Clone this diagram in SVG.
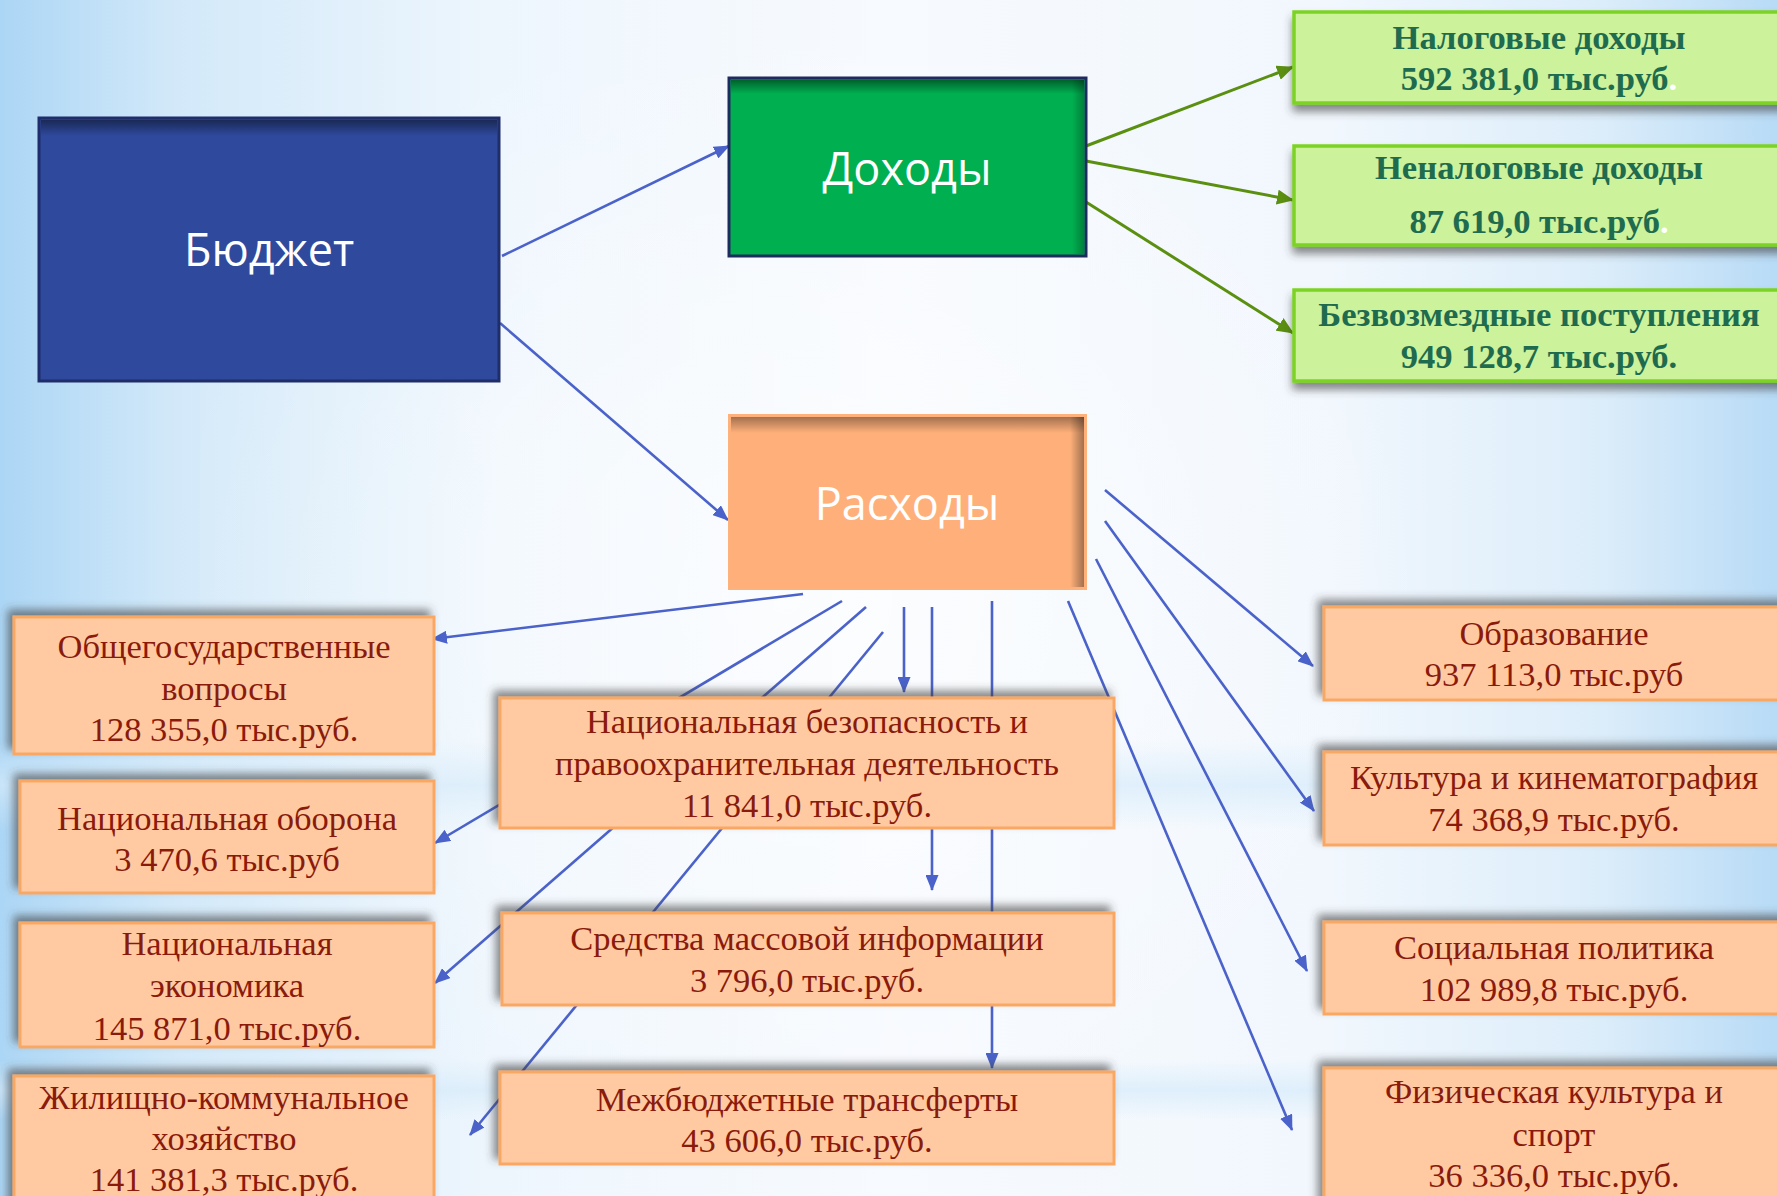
<svg xmlns="http://www.w3.org/2000/svg" width="1777" height="1196" viewBox="0 0 1777 1196">
  <defs>
    <linearGradient id="bg" x1="0" y1="0" x2="1" y2="0">
      <stop offset="0" stop-color="#acd6f5"/>
      <stop offset="0.1" stop-color="#d3e9f9"/>
      <stop offset="0.28" stop-color="#eef6fd"/>
      <stop offset="0.5" stop-color="#f7fafe"/>
      <stop offset="0.75" stop-color="#f1f7fd"/>
      <stop offset="0.9" stop-color="#dcedfa"/>
      <stop offset="1" stop-color="#b8dbf6"/>
    </linearGradient>
    <radialGradient id="glow" cx="0.45" cy="0.5" r="0.5">
      <stop offset="0" stop-color="#ffffff" stop-opacity="0.6"/>
      <stop offset="1" stop-color="#ffffff" stop-opacity="0"/>
    </radialGradient>
    <linearGradient id="band" x1="0" y1="0" x2="0" y2="1">
      <stop offset="0" stop-color="#d6ebfa" stop-opacity="0"/>
      <stop offset="0.5" stop-color="#d6ebfa" stop-opacity="0.7"/>
      <stop offset="1" stop-color="#d6ebfa" stop-opacity="0"/>
    </linearGradient>
    <linearGradient id="topShade" x1="0" y1="0" x2="0" y2="1">
      <stop offset="0" stop-color="#000" stop-opacity="0.45"/>
      <stop offset="1" stop-color="#000" stop-opacity="0"/>
    </linearGradient>
    <linearGradient id="rightShade" x1="1" y1="0" x2="0" y2="0">
      <stop offset="0" stop-color="#000" stop-opacity="0.45"/>
      <stop offset="1" stop-color="#000" stop-opacity="0"/>
    </linearGradient>
    <filter id="shUp" x="-10%" y="-20%" width="120%" height="140%">
      <feDropShadow dx="-5" dy="-6" stdDeviation="4" flood-color="#3a3a3a" flood-opacity="0.6"/>
    </filter>
    <filter id="shDown" x="-10%" y="-20%" width="120%" height="150%">
      <feDropShadow dx="0" dy="7" stdDeviation="4" flood-color="#3a3a3a" flood-opacity="0.6"/>
    </filter>
    <marker id="arrB" viewBox="0 0 16 13" markerWidth="16" markerHeight="13" refX="15" refY="6.5" orient="auto" markerUnits="userSpaceOnUse">
      <path d="M0,0 L16,6.5 L0,13 z" fill="#4a62c9"/>
    </marker>
    <marker id="arrG" viewBox="0 0 17 15" markerWidth="17" markerHeight="15" refX="16" refY="7.5" orient="auto" markerUnits="userSpaceOnUse">
      <path d="M0,0 L17,7.5 L0,15 z" fill="#5b8f10"/>
    </marker>
  </defs>
  <style>
    .title { font-family: "Open Sans", "Noto Sans", "DejaVu Sans", sans-serif; font-size: 45px; fill: #ffffff; text-anchor: middle; }
    .gbox { fill: #ccf29b; stroke: #7dd322; stroke-width: 3.5; filter: url(#shDown); }
    .gtxt { font-family: "Liberation Serif", "Times New Roman", serif; font-weight: bold; font-size: 34.6px; fill: #1f6b4f; text-anchor: middle; }
    .obox { fill: #ffcaa1; stroke: #f9a864; stroke-width: 3; filter: url(#shUp); }
    .otxt { font-family: "Liberation Serif", "Times New Roman", serif; font-size: 34.5px; fill: #8a1b0c; text-anchor: middle; }
    .cb { stroke: #4a62c9; stroke-width: 2.6; fill: none; marker-end: url(#arrB); }
    .cg { stroke: #5b8f10; stroke-width: 3; fill: none; marker-end: url(#arrG); }
  </style>

  <rect x="0" y="0" width="1777" height="1196" fill="url(#bg)"/>
  <rect x="200" y="0" width="1300" height="1196" fill="url(#glow)"/>
  <rect x="0" y="740" width="1777" height="90" fill="url(#band)"/>
  <rect x="0" y="1060" width="1777" height="60" fill="url(#band)"/>

  <g id="connectors">
    <line class="cb" x1="502" y1="256" x2="729" y2="146"/>
    <line class="cb" x1="500" y1="323" x2="728" y2="520"/>
    <line class="cg" x1="1086" y1="146" x2="1293" y2="67"/>
    <line class="cg" x1="1086" y1="161" x2="1293" y2="200"/>
    <line class="cg" x1="1086" y1="202" x2="1293" y2="333"/>
    <line class="cb" x1="803" y1="594" x2="432" y2="639"/>
    <line class="cb" x1="842" y1="601" x2="435" y2="843"/>
    <line class="cb" x1="866" y1="607" x2="435" y2="983"/>
    <line class="cb" x1="883" y1="632" x2="470" y2="1135"/>
    <line class="cb" x1="904" y1="607" x2="904" y2="692"/>
    <line class="cb" x1="932" y1="607" x2="932" y2="890"/>
    <line class="cb" x1="992" y1="601" x2="992" y2="1068"/>
    <line class="cb" x1="1105" y1="490" x2="1313" y2="666"/>
    <line class="cb" x1="1105" y1="521" x2="1314" y2="811"/>
    <line class="cb" x1="1096" y1="559" x2="1307" y2="971"/>
    <line class="cb" x1="1068" y1="601" x2="1292" y2="1130"/>
  </g>

  <g id="budget">
    <rect x="39" y="118" width="460" height="263" fill="#2f4a9d" stroke="#1f2d6b" stroke-width="3"/>
    <rect x="41" y="120" width="456" height="16" fill="url(#topShade)"/>
    <text class="title" x="269" y="266">Бюджет</text>
  </g>

  <g id="income">
    <rect x="729" y="78" width="357" height="178" fill="#00b050" stroke="#1f2a5e" stroke-width="3"/>
    <rect x="731" y="80" width="353" height="14" fill="url(#topShade)"/>
    <rect x="1072" y="80" width="12" height="174" fill="url(#rightShade)" opacity="0.6"/>
    <text class="title" x="907" y="185">Доходы</text>
  </g>

  <g id="expenses">
    <rect x="729" y="415" width="357" height="174" fill="#ffb07a" stroke="#fdb27c" stroke-width="2"/>
    <rect x="731" y="417" width="353" height="16" fill="url(#topShade)" opacity="0.8"/>
    <rect x="1070" y="417" width="14" height="170" fill="url(#rightShade)" opacity="0.8"/>
    <text class="title" x="907" y="520">Расходы</text>
  </g>

  <g id="tax">
    <rect class="gbox" x="1294" y="12" width="500" height="91"/>
    <text class="gtxt" x="1539" y="49">Налоговые доходы</text>
    <text class="gtxt" x="1539" y="90">592 381,0 тыс.руб<tspan fill="#ffffff">.</tspan></text>
  </g>

  <g id="nontax">
    <rect class="gbox" x="1294" y="146" width="500" height="99"/>
    <text class="gtxt" x="1539" y="179">Неналоговые доходы</text>
    <text class="gtxt" x="1539" y="233">87 619,0 тыс.руб<tspan fill="#ffffff">.</tspan></text>
  </g>

  <g id="gratuitous">
    <rect class="gbox" x="1294" y="290" width="500" height="91"/>
    <text class="gtxt" x="1539" y="326">Безвозмездные поступления</text>
    <text class="gtxt" x="1539" y="368">949 128,7 тыс.руб.</text>
  </g>

  <g id="general">
    <rect class="obox" x="14" y="617" width="420" height="137"/>
    <text class="otxt" x="224" y="658">Общегосударственные</text>
    <text class="otxt" x="224" y="700">вопросы</text>
    <text class="otxt" x="224" y="741">128 355,0 тыс.руб.</text>
  </g>

  <g id="defense">
    <rect class="obox" x="20" y="781" width="414" height="112"/>
    <text class="otxt" x="227" y="830">Национальная оборона</text>
    <text class="otxt" x="227" y="871">3 470,6 тыс.руб</text>
  </g>

  <g id="economy">
    <rect class="obox" x="20" y="923" width="414" height="124"/>
    <text class="otxt" x="227" y="955">Национальная</text>
    <text class="otxt" x="227" y="997">экономика</text>
    <text class="otxt" x="227" y="1040">145 871,0 тыс.руб.</text>
  </g>

  <g id="housing">
    <rect class="obox" x="14" y="1076" width="420" height="140"/>
    <text class="otxt" x="224" y="1109">Жилищно-коммунальное</text>
    <text class="otxt" x="224" y="1150">хозяйство</text>
    <text class="otxt" x="224" y="1191">141 381,3 тыс.руб.</text>
  </g>

  <g id="security">
    <rect class="obox" x="500" y="698" width="614" height="130"/>
    <text class="otxt" x="807" y="733">Национальная безопасность и</text>
    <text class="otxt" x="807" y="775">правоохранительная деятельность</text>
    <text class="otxt" x="807" y="817">11 841,0 тыс.руб.</text>
  </g>

  <g id="media">
    <rect class="obox" x="502" y="913" width="612" height="92"/>
    <text class="otxt" x="807" y="950">Средства массовой информации</text>
    <text class="otxt" x="807" y="992">3 796,0 тыс.руб.</text>
  </g>

  <g id="transfers">
    <rect class="obox" x="500" y="1072" width="614" height="92"/>
    <text class="otxt" x="807" y="1111">Межбюджетные трансферты</text>
    <text class="otxt" x="807" y="1152">43 606,0 тыс.руб.</text>
  </g>

  <g id="education">
    <rect class="obox" x="1324" y="607" width="470" height="93"/>
    <text class="otxt" x="1554" y="645">Образование</text>
    <text class="otxt" x="1554" y="686">937 113,0 тыс.руб</text>
  </g>

  <g id="culture">
    <rect class="obox" x="1324" y="752" width="470" height="93"/>
    <text class="otxt" x="1554" y="789">Культура и кинематография</text>
    <text class="otxt" x="1554" y="831">74 368,9 тыс.руб.</text>
  </g>

  <g id="social">
    <rect class="obox" x="1324" y="922" width="470" height="92"/>
    <text class="otxt" x="1554" y="959">Социальная политика</text>
    <text class="otxt" x="1554" y="1001">102 989,8 тыс.руб.</text>
  </g>

  <g id="sport">
    <rect class="obox" x="1324" y="1068" width="470" height="150"/>
    <text class="otxt" x="1554" y="1103">Физическая культура и</text>
    <text class="otxt" x="1554" y="1146">спорт</text>
    <text class="otxt" x="1554" y="1187">36 336,0 тыс.руб.</text>
  </g>
</svg>
